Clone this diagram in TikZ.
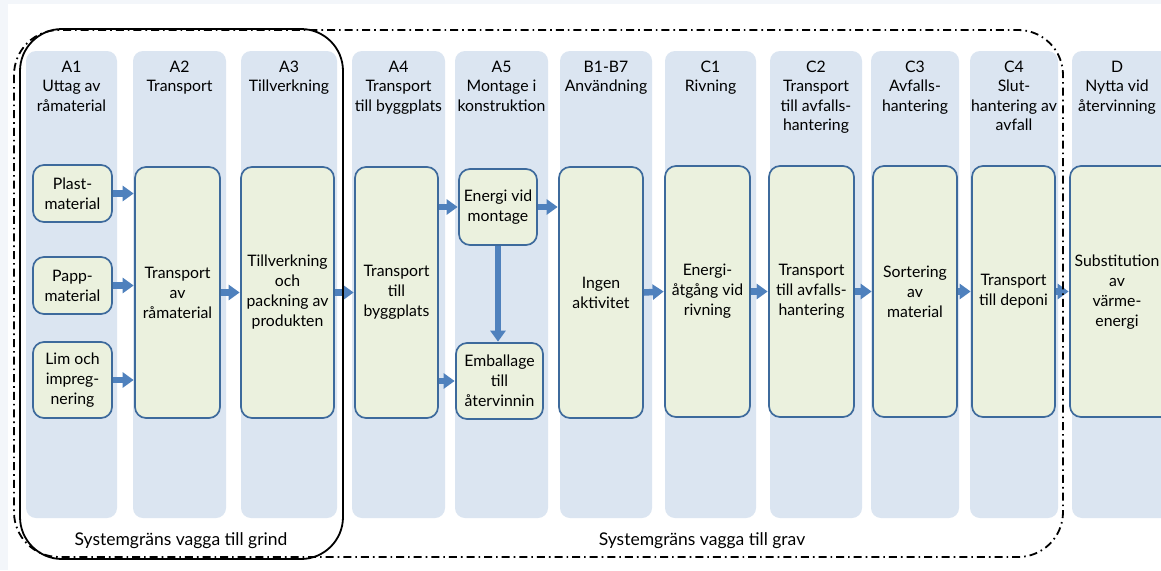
\documentclass[tikz,border=0pt]{standalone}
\usepackage{fontspec}
\setmainfont{Lato}
\usetikzlibrary{arrows.meta}
\definecolor{outerbg}{HTML}{F3F6FA}
\definecolor{colbg}{HTML}{DBE5F1}
\definecolor{boxfill}{HTML}{EBF1DE}
\definecolor{boxline}{HTML}{3D6A9C}
\definecolor{arrblue}{HTML}{4F81BD}
\tikzset{
  panel/.style={fill=colbg, rounded corners=10pt},
  hdr/.style={anchor=north, align=center, inner sep=0pt, font=\fontsize{15.8}{19.6}\selectfont},
  gbox/.style={draw=boxline, fill=boxfill, line width=1.7pt, rounded corners=11pt, align=center,
    inner sep=0pt, font=\fontsize{15.8}{20}\selectfont},
  arr/.style={draw=arrblue, line width=6.5pt, -{Triangle[width=15pt,length=11pt]}, shorten >=0.5pt},
  lbl/.style={inner sep=0pt, font=\fontsize{17.5}{20}\selectfont},
}
\newcommand{\colpanel}[4]{%
  \fill[panel] (#1,51) rectangle (#2,518);
  \node[hdr] (#3) at ({(#1+#2)/2},60.5) {#4};}
\newcommand{\gboxat}[6]{%
  \node[gbox, minimum width={#3-#2}, minimum height={#5-#4}] (#1) at ({(#2+#3)/2},{(#4+#5)/2}) {#6};}
\begin{document}
\begin{tikzpicture}[x=1pt,y=-1pt]
\useasboundingbox (0,0) rectangle (1161,570);
\fill[outerbg] (0,0) rectangle (1161,570);
\fill[white] (8,4) rectangle (1161,570);

% column panels with headers
\colpanel{26}{117}{hA1}{A1\\Uttag av\\råmaterial}
\colpanel{133}{226}{hA2}{A2\\Transport}
\colpanel{241}{337}{hA3}{A3\\Tillverkning}
\colpanel{352}{445}{hA4}{A4\\Transport\\till byggplats}
\colpanel{455}{548}{hA5}{A5\\Montage i\\konstruktion}
\colpanel{560}{652}{hB}{B1-B7\\Användning}
\colpanel{665}{756}{hC1}{C1\\Rivning}
\colpanel{770}{862}{hC2}{C2\\Transport\\till avfalls-\\hantering}
\colpanel{871}{959}{hC3}{C3\\Avfalls-\\hantering}
\colpanel{970}{1058}{hC4}{C4\\Slut-\\hantering av\\avfall}
\fill[panel] (1072,51) rectangle (1190,518);
\node[hdr] (hD) at (1117,60.5) {D\\Nytta vid\\återvinning};

% boxes
\gboxat{plast}{33}{112}{165}{222}{Plast-\\material}
\gboxat{papp}{33}{112}{257}{314}{Papp-\\material}
\gboxat{lim}{33}{112}{342}{418}{Lim och\\impreg-\\nering}
\gboxat{a2}{135}{220}{167}{418}{Transport\\av\\råmaterial}
\gboxat{a3}{241}{334}{167}{418}{Tillverkning\\och\\packning av\\produkten}
\gboxat{a4}{355}{438}{167}{418}{Transport\\till\\byggplats}
\gboxat{energi}{459}{537}{169}{245}{Energi vid\\montage}
\gboxat{emb}{456}{543}{343}{419}{Emballage\\till\\återvinnin}
\gboxat{ingen}{559}{643}{167}{418}{Ingen\\aktivitet}
\gboxat{c1}{665}{750}{166}{417}{Energi-\\åtgång vid\\rivning}
\gboxat{c2}{769}{854}{166}{417}{Transport\\till avfalls-\\hantering}
\gboxat{c3}{873}{957}{166}{417}{Sortering\\av\\material}
\gboxat{c4}{972}{1055}{166}{417}{Transport\\till deponi}
\node[gbox, minimum width=130, minimum height=251] (d) at (1135,291.5) {};
\node[inner sep=0pt, align=center, font=\fontsize{15.8}{20}\selectfont] (dtext) at (1117,292) {Substitution\\av\\värme-\\energi};

% arrows
\draw[arr] (plast.east) -- (a2.west |- plast.east);
\draw[arr] (papp.east) -- (a2.west |- papp.east);
\draw[arr] (lim.east) -- (a2.west |- lim.east);
\draw[arr] (a2.east) -- (a3.west);
\draw[arr] (a3.east) -- (a4.west);
\draw[arr] (a4.east |- energi.west) -- (energi.west);
\draw[arr] (a4.east |- emb.west) -- (emb.west);
\draw[arr] (energi.east) -- (ingen.west |- energi.east);
\draw[arr] (energi.south) -- (energi.south |- emb.north);
\draw[arr] (ingen.east) -- (c1.west);
\draw[arr] (c1.east) -- (c2.west);
\draw[arr] (c2.east) -- (c3.west);
\draw[arr] (c3.east) -- (c4.west);
\draw[arr] (c4.east) -- (d.west |- c4.east);

% system boundaries
\draw[line width=1.8pt, dash pattern=on 8pt off 4pt on 1.6pt off 4pt, rounded corners=45pt] (14,30) rectangle (1063,557);
\draw[line width=1.8pt, rounded corners=42pt] (20,29) rectangle (343,559);
\node[lbl] (grind) at (181,541) {Systemgräns vagga till grind};
\node[lbl] (grav) at (702,541) {Systemgräns vagga till grav};
\end{tikzpicture}
\end{document}
